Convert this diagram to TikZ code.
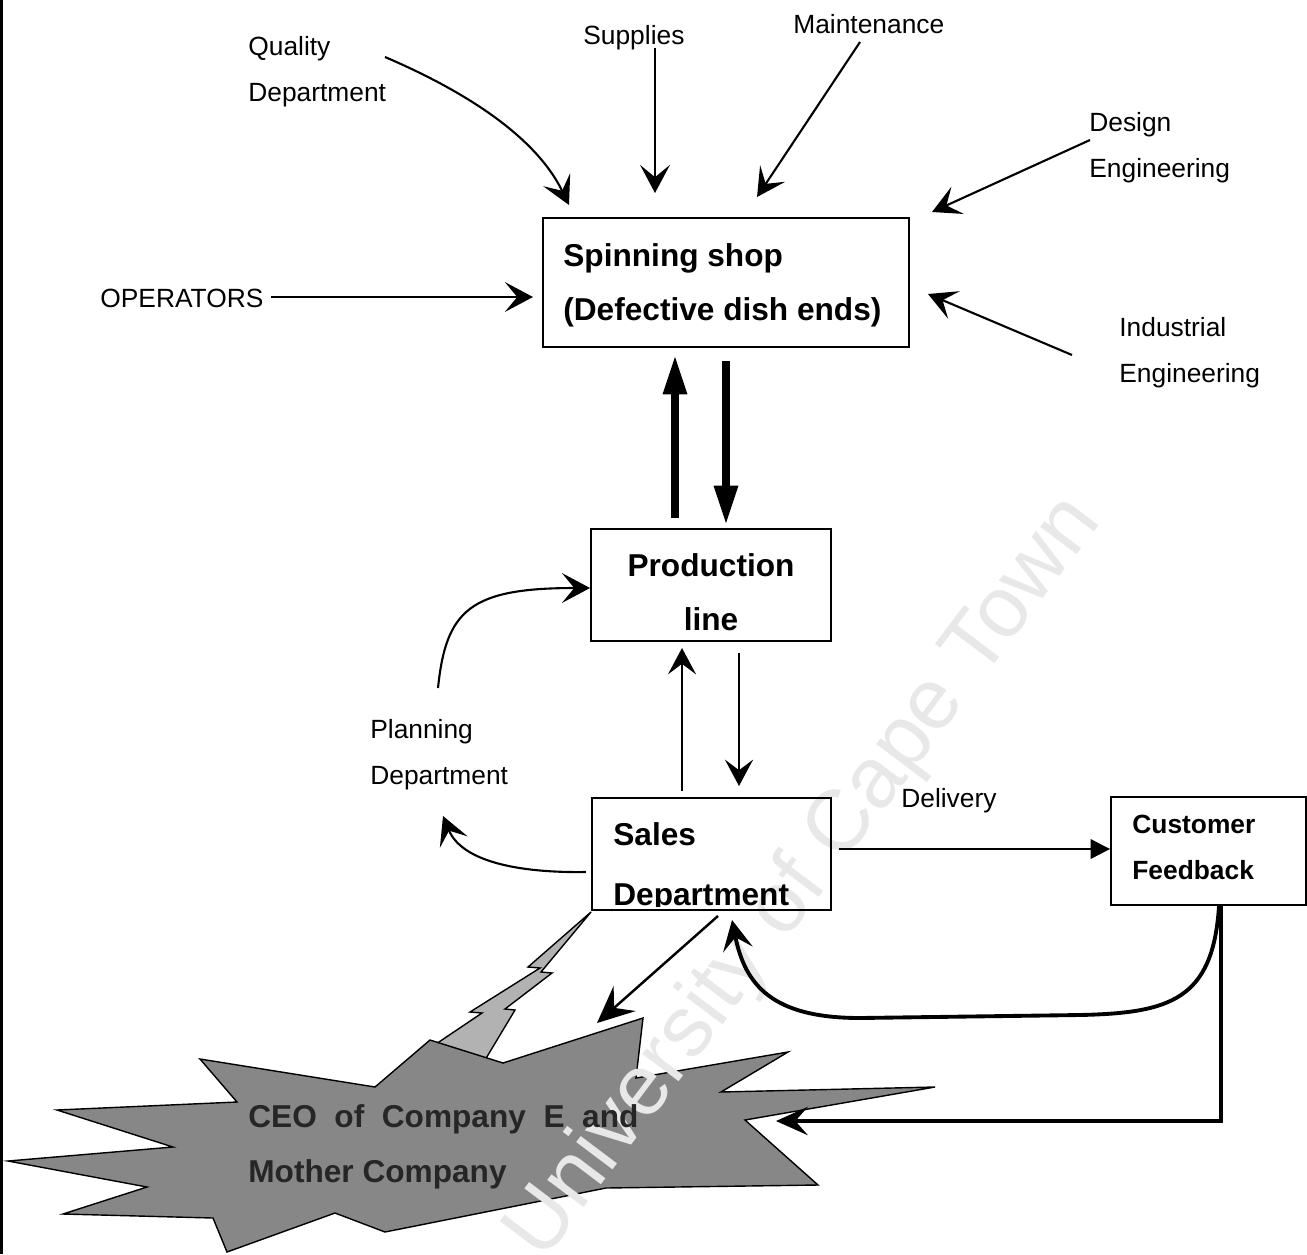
\documentclass[tikz,border=0pt]{standalone}
\usepackage{fontspec}
\setmainfont{Liberation Sans}
\usetikzlibrary{arrows.meta,calc}

\begin{document}
\begin{tikzpicture}[x=0.02cm,y=-0.02cm,
  lbl/.style={inner sep=0pt,anchor=base west,font=\fontsize{15}{18}\selectfont},
  boxtxt/.style={inner sep=0pt,anchor=base west,font=\fontsize{18}{22}\selectfont\bfseries},
  smallbox/.style={inner sep=0pt,anchor=base west,font=\fontsize{15}{18}\selectfont\bfseries},
  ceotxt/.style={inner sep=0pt,anchor=base west,text=black!85,font=\fontsize{18}{22}\selectfont\bfseries},
  box/.style={draw,line width=1.1pt,inner sep=0pt},
  thinarrow/.style={line width=1.2pt,-{Stealth[length=16pt,width=17pt,inset=7pt]}},
  midarrow/.style={line width=1.2pt,-{Stealth[length=15pt,width=16pt,inset=6pt]}},
  heavyarrow/.style={line width=5pt,-{Triangle[length=23pt,width=12.5pt]}},
  fbarrow/.style={line width=2.2pt,-{Stealth[length=17pt,width=17pt,inset=7pt]}},
]
\useasboundingbox (0,0) rectangle (1307,1254);

% left margin rule
\draw[line width=1.8pt] (1.5,0) -- (1.5,1254);

% ---------- CEO burst with lightning ----------
\draw[fill=black!30,line width=0.8pt,line join=miter]
  (591,912) -- (528,967) -- (540,968) -- (470,1012) -- (482,1013) -- (430,1048)
  -- (485,1060) -- (515,1010) -- (505,1009) -- (552,973) -- (541,972) -- cycle;
\draw[fill=black!47,line width=0.8pt,line join=miter]
  (200,1059) -- (375,1087) -- (430,1040) -- (503,1063) -- (643,1018) -- (636,1078)
  -- (788,1052) -- (721,1092) -- (935,1087) -- (745,1120) -- (818,1185) -- (606,1188)
  -- (385,1232) -- (335,1213) -- (227,1252) -- (213,1218) -- (63,1214) -- (147,1187)
  -- (8,1161) -- (173,1147) -- (57,1110) -- (237,1102) -- cycle;

% faint watermark
\node[text=black!9,font=\fontsize{49}{52}\selectfont,rotate=53,inner sep=0pt] (wm) at (805,878) {University of Cape Town};

\node[ceotxt] (ceoA) at (248,1127) {CEO\hspace{5pt} of\hspace{5pt} Company\hspace{5pt} E\hspace{5pt} and};
\node[ceotxt] (ceoB) at (248,1182) {Mother Company};
\coordinate (ceoTop) at (597,1023);
\coordinate (ceoRight) at (776,1121);

% ---------- boxes ----------
\node[box,minimum width=7.32cm,minimum height=2.58cm] (spin) at (726,282.5) {};
\node[box,minimum width=4.80cm,minimum height=2.24cm] (prod) at (711,585) {};
\node[box,minimum width=4.78cm,minimum height=2.24cm] (sales) at (711.5,854) {};
\node[box,minimum width=3.90cm,minimum height=2.16cm] (cust) at (1208.5,851) {};

\node[boxtxt] (spinA) at (563,266) {Spinning shop};
\node[boxtxt] (spinB) at (563,320) {(Defective dish ends)};
\node[boxtxt,anchor=base] (prodA) at (711,576) {Production};
\node[boxtxt,anchor=base] (prodB) at (711,630) {line};
\node[boxtxt] (salesA) at (613,845) {Sales};
\begin{scope}
  \clip (592,798) rectangle (831,906.5);
  \node[boxtxt] (salesB) at (613,905) {Department};
\end{scope}
\node[smallbox] (custA) at (1132,833) {Customer};
\node[smallbox] (custB) at (1132,879) {Feedback};

% ---------- free labels ----------
\node[lbl] (qualA) at (248,55) {Quality};
\node[lbl] (qualB) at (248,101) {Department};
\node[lbl] (supp) at (583,44) {Supplies};
\node[lbl] (maint) at (793,33) {Maintenance};
\node[lbl] (desA) at (1089,131) {Design};
\node[lbl] (desB) at (1089,177) {Engineering};
\node[lbl] (oper) at (100,307) {OPERATORS};
\node[lbl] (indA) at (1119,336) {Industrial};
\node[lbl] (indB) at (1119,382) {Engineering};
\node[lbl] (planA) at (370,738) {Planning};
\node[lbl] (planB) at (370,784) {Department};
\node[lbl] (deliv) at (901,807) {Delivery};

% ---------- inputs to the spinning shop ----------
\coordinate (qualS) at (385,57);
\coordinate (qualT) at (569,205);
\draw[thinarrow] (qualS) .. controls (462,90) and (535,135) .. (qualT);
\coordinate (suppT) at (655,193);
\draw[thinarrow] (supp.south -| suppT) ++(0,-2) -- (suppT);
\coordinate (maintS) at (860,42);
\coordinate (maintT) at (757,197);
\draw[thinarrow] (maintS) -- (maintT);
\coordinate (desS) at (1090,140);
\coordinate (desT) at (932,212);
\draw[thinarrow] (desS) -- (desT);
\coordinate (operT) at (533,297);
\draw[thinarrow] ([xshift=4pt]oper.east |- operT) -- (operT);
\coordinate (indS) at (1072,355);
\coordinate (indT) at (928,294);
\draw[thinarrow] (indS) -- (indT);

% ---------- spinning shop <-> production line ----------
\draw[heavyarrow] (prod.north -| 675,0) ++(0,-10) -- (675,354);
\draw[heavyarrow] (spin.south -| 726,0) ++(0,13) -- (726,526);

% ---------- production line <-> sales ----------
\draw[midarrow] (sales.north -| 682,0) ++(0,-6) -- (682,648);
\draw[midarrow] (prod.south -| 739,0) ++(0,11) -- (739,786);

% ---------- planning department loop ----------
\coordinate (planS) at (438,688);
\coordinate (planT) at (443,816);
\draw[thinarrow] (planS) .. controls (446,610) and (470,588) .. (prod.west |- 0,588);
\draw[thinarrow] ([xshift=-3pt]sales.west |- 0,872) .. controls (520,873) and (462,862) .. (planT);

% ---------- delivery and feedback ----------
\draw[line width=1.2pt,-{Triangle[length=11pt,width=11pt]}] ([xshift=4pt]sales.east |- 0,849) -- (cust.west |- 0,849);
\draw[fbarrow] (cust.south -| 1219,0) .. controls (1213,1000) and (1170,1013) .. (1080,1015)
  -- (860,1018) .. controls (772,1018) and (745,985) .. (732,920);
\draw[line width=2.6pt,-{Stealth[length=18pt,width=16pt,inset=7pt]}] (cust.south -| 1221,0) -- (1221,1121) -- (ceoRight);
\draw[line width=1.4pt,-{Stealth[length=21pt,width=19pt,inset=8pt]}] (sales.south -| 718,0) ++(0,5) -- (ceoTop);

\end{tikzpicture}
\end{document}
